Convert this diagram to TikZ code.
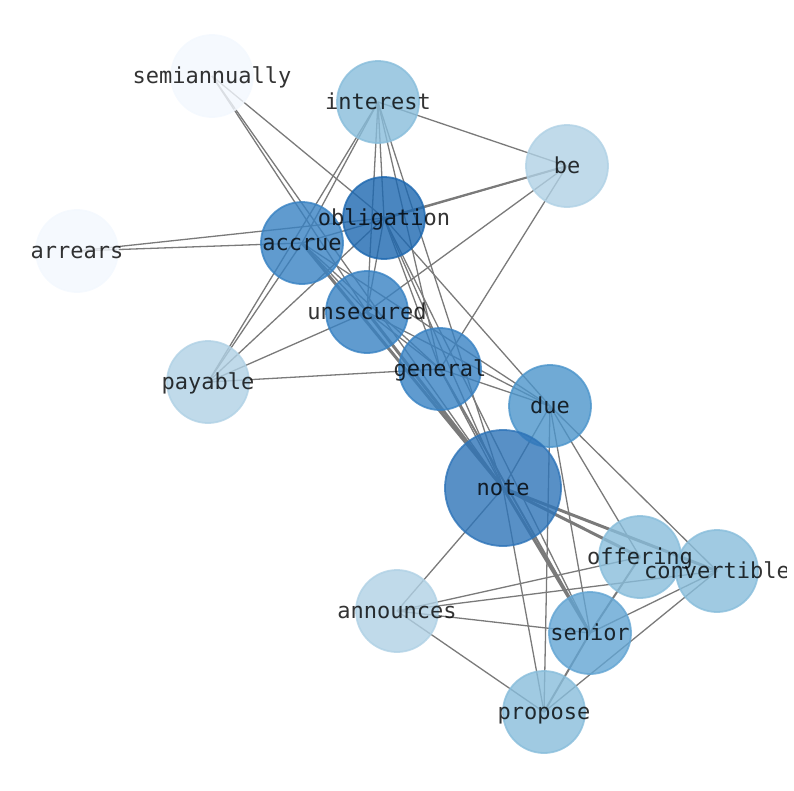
\documentclass[tikz,border=0pt]{standalone}
\usepackage{fontspec}
\newfontfamily\monof{DejaVu Sans Mono}
\definecolor{cA}{HTML}{F3F8FE}
\definecolor{cB}{HTML}{B0D1E5}
\definecolor{cC}{HTML}{88BDDB}
\definecolor{cD}{HTML}{63A5D3}
\definecolor{cE}{HTML}{4C95CB}
\definecolor{cF}{HTML}{3882C3}
\definecolor{cG}{HTML}{1D68B0}
\definecolor{cH}{HTML}{2E74B8}
\definecolor{edgegray}{HTML}{7A7A7A}
\pgfdeclarelayer{edgelayer}
\pgfdeclarelayer{nodelayer}
\pgfsetlayers{edgelayer,nodelayer,main}
\tikzset{
  vtx/.style={circle, inner sep=0pt, minimum size=82pt, line width=1.8pt,
    fill=#1, draw=#1, fill opacity=0.8, draw opacity=0.8},
  bigvtx/.style={vtx=#1, minimum size=116pt},
  lbl/.style={font=\monof\fontsize{22}{24}\selectfont, text=black, text opacity=0.8,
    inner sep=0pt, text height=20pt, text depth=5pt},
  edge/.style={draw=edgegray, line width=1.3pt},
  medge/.style={draw=edgegray, line width=2pt},
  tedge/.style={draw=edgegray, line width=3pt},
}
\begin{document}
\begin{tikzpicture}[x=1pt,y=-1pt]
\useasboundingbox (0,0) rectangle (794,790);
\clip (0,0) rectangle (786,790);
\begin{pgfonlayer}{nodelayer}
\node[vtx=cA] (semi) at (212,76) {};
\node[vtx=cA] (arrears) at (77,251) {};
\node[vtx=cC] (interest) at (378,102) {};
\node[vtx=cB] (be) at (567,166) {};
\node[vtx=cF] (accrue) at (302,243) {};
\node[vtx=cG] (oblig) at (384,218) {};
\node[vtx=cB] (payable) at (208,382) {};
\node[vtx=cF] (unsec) at (367,312) {};
\node[vtx=cF] (general) at (440,369) {};
\node[vtx=cE] (due) at (550,406) {};
\node[bigvtx=cH] (note) at (503,488) {};
\node[vtx=cC] (offering) at (640,557) {};
\node[vtx=cC] (convert) at (717,571) {};
\node[vtx=cB] (announces) at (397,611) {};
\node[vtx=cD] (senior) at (590,633) {};
\node[vtx=cC] (propose) at (544,712) {};
\end{pgfonlayer}
\begin{pgfonlayer}{edgelayer}
\draw[edge] (semi.center) -- (oblig.center);
\draw[edge] (semi.center) -- (unsec.center);
\draw[edge] (semi.center) -- (note.center);
\draw[edge] (interest.center) -- (be.center);
\draw[edge] (interest.center) -- (accrue.center);
\draw[edge] (interest.center) -- (payable.center);
\draw[edge] (interest.center) -- (unsec.center);
\draw[edge] (interest.center) -- (oblig.center);
\draw[edge] (interest.center) -- (general.center);
\draw[edge] (interest.center) -- (note.center);
\draw[medge] (be.center) -- (oblig.center);
\draw[edge] (be.center) -- (accrue.center);
\draw[edge] (be.center) -- (unsec.center);
\draw[edge] (be.center) -- (general.center);
\draw[edge] (arrears.center) -- (accrue.center);
\draw[edge] (arrears.center) -- (oblig.center);
\draw[edge] (payable.center) -- (accrue.center);
\draw[edge] (payable.center) -- (oblig.center);
\draw[edge] (payable.center) -- (unsec.center);
\draw[edge] (payable.center) -- (general.center);
\draw[edge] (oblig.center) -- (unsec.center);
\draw[edge] (oblig.center) -- (general.center);
\draw[edge] (oblig.center) -- (note.center);
\draw[edge] (oblig.center) -- (due.center);
\draw[edge] (oblig.center) -- (senior.center);
\draw[edge] (accrue.center) -- (unsec.center);
\draw[edge] (accrue.center) -- (general.center);
\draw[tedge] (accrue.center) -- (note.center);
\draw[edge] (accrue.center) -- (due.center);
\draw[edge] (unsec.center) -- (general.center);
\draw[tedge] (unsec.center) -- (note.center);
\draw[edge] (unsec.center) -- (due.center);
\draw[edge] (general.center) -- (due.center);
\draw[edge] (general.center) -- (note.center);
\draw[medge] (general.center) -- (senior.center);
\draw[edge] (due.center) -- (note.center);
\draw[edge] (due.center) -- (offering.center);
\draw[edge] (due.center) -- (convert.center);
\draw[edge] (due.center) -- (senior.center);
\draw[edge] (due.center) -- (propose.center);
\draw[tedge] (note.center) -- (offering.center);
\draw[tedge] (note.center) -- (convert.center);
\draw[edge] (note.center) -- (announces.center);
\draw[tedge] (note.center) -- (senior.center);
\draw[edge] (note.center) -- (propose.center);
\draw[edge] (offering.center) -- (announces.center);
\draw[medge] (offering.center) -- (senior.center);
\draw[edge] (convert.center) -- (announces.center);
\draw[edge] (convert.center) -- (senior.center);
\draw[edge] (convert.center) -- (propose.center);
\draw[edge] (announces.center) -- (senior.center);
\draw[edge] (announces.center) -- (propose.center);
\draw[medge] (senior.center) -- (propose.center);
\end{pgfonlayer}
\node[lbl] (semi-t) at (semi.center) {semiannually};
\node[lbl] (arrears-t) at (arrears.center) {arrears};
\node[lbl] (interest-t) at (interest.center) {interest};
\node[lbl] (be-t) at (be.center) {be};
\node[lbl] (accrue-t) at (accrue.center) {accrue};
\node[lbl] (oblig-t) at (oblig.center) {obligation};
\node[lbl] (payable-t) at (payable.center) {payable};
\node[lbl] (unsec-t) at (unsec.center) {unsecured};
\node[lbl] (general-t) at (general.center) {general};
\node[lbl] (due-t) at (due.center) {due};
\node[lbl] (note-t) at (note.center) {note};
\node[lbl] (offering-t) at (offering.center) {offering};
\node[lbl] (convert-t) at (convert.center) {convertible};
\node[lbl] (announces-t) at (announces.center) {announces};
\node[lbl] (senior-t) at (senior.center) {senior};
\node[lbl] (propose-t) at (propose.center) {propose};
\end{tikzpicture}
\end{document}
